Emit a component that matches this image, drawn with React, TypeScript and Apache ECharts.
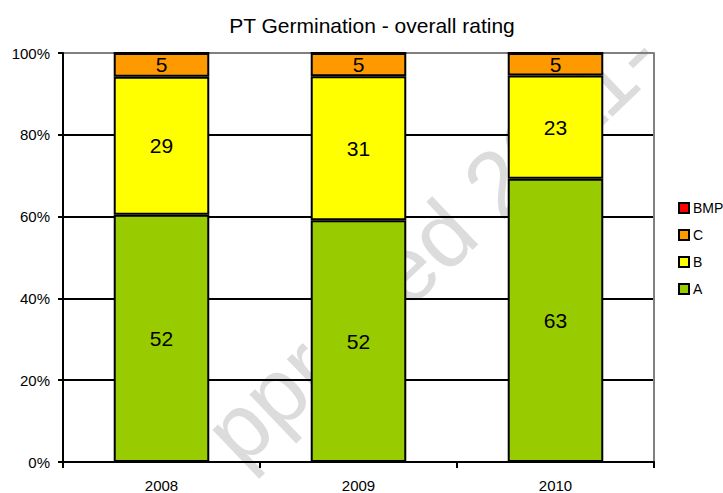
import React, { useEffect, useRef } from 'react';
import * as echarts from 'echarts';

const years = ['2008', '2009', '2010'];
const valuesA = [52, 52, 63];
const valuesB = [29, 31, 23];
const valuesC = [5, 5, 5];
const valuesBMP = [0, 0, 0];
const legendOrder = ['BMP', 'C', 'B', 'A'];
const yTickSuffix = '%';
const watermarkText = 'pproved 2011-';

const FONT = '"Liberation Sans", Arial, sans-serif';

export default function App() {
  const ref = useRef<HTMLDivElement>(null);
  useEffect(() => {
    document.body.style.margin = '0';
    const chart = echarts.init(ref.current!, null, { renderer: 'svg' });
    const totals = years.map((_, i) => valuesA[i] + valuesB[i] + valuesC[i] + valuesBMP[i]);
    const pct = (arr: number[]) => arr.map((v, i) => (v / totals[i]) * 100);
    const mk = (name: string, raw: number[], color: string) => ({
      name,
      type: 'bar',
      stack: 'total',
      barWidth: '48.5%',
      data: pct(raw),
      itemStyle: { color, borderColor: '#000', borderWidth: 2 },
      label: {
        show: true,
        position: 'inside',
        color: '#000',
        fontSize: 21,
        fontFamily: FONT,
        formatter: (p: any) => (raw[p.dataIndex] === 0 ? '' : String(raw[p.dataIndex])),
      },
      emphasis: { disabled: true },
    });
    chart.setOption({
      animation: false,
      backgroundColor: '#fff',
      title: {
        text: 'PT Germination - overall rating',
        left: 367,
        top: 10,
        textAlign: 'center',
        textStyle: { fontSize: 21, fontWeight: 'normal', color: '#000', fontFamily: FONT },
      },
      graphic: [
        {
          type: 'text',
          x: 432,
          y: 244,
          rotation: 0.76,
          z: -10,
          silent: true,
          style: {
            text: watermarkText,
            fontSize: 92,
            fontFamily: FONT,
            fill: '#dcdcdc',
            textAlign: 'center',
            textVerticalAlign: 'middle',
            align: 'center',
            verticalAlign: 'middle',
          },
        },
      ],
      legend: {
        data: legendOrder,
        orient: 'vertical',
        left: 673,
        top: 196,
        itemWidth: 10,
        itemHeight: 10,
        itemGap: 13,
        icon: 'rect',
        textStyle: { fontSize: 14, color: '#000', fontFamily: FONT, padding: [0, 0, 0, -1] },
        itemStyle: { borderColor: '#000', borderWidth: 2 },
        selectedMode: false,
      },
      grid: { left: 63, right: 69, top: 53, bottom: 30, containLabel: false },
      xAxis: {
        type: 'category',
        data: years,
        axisLine: { show: true, lineStyle: { color: '#000', width: 2 } },
        axisTick: { show: true, length: 6, lineStyle: { color: '#000', width: 2 } },
        axisLabel: { fontSize: 15, color: '#000', fontFamily: FONT, margin: 16 },
        splitLine: { show: false },
      },
      yAxis: [
        {
          type: 'value',
          min: 0,
          max: 100,
          interval: 20,
          axisLine: { show: true, lineStyle: { color: '#000', width: 2 } },
          axisTick: { show: true, length: 5, lineStyle: { color: '#000', width: 2 } },
          axisLabel: {
            fontSize: 15,
            color: '#000',
            fontFamily: FONT,
            margin: 13,
            formatter: (v: number) => v + yTickSuffix,
          },
          splitLine: {
            show: true,
            lineStyle: { color: ['#000', '#000', '#000', '#000', '#000', '#808080'], width: 2 },
          },
        },
        {
          type: 'value',
          position: 'right',
          min: 0,
          max: 100,
          interval: 20,
          axisLine: { show: true, lineStyle: { color: '#808080', width: 2 } },
          axisTick: { show: false },
          axisLabel: { show: false },
          splitLine: { show: false },
        },
      ],
      series: [
        mk('A', valuesA, '#99CC00'),
        mk('B', valuesB, '#FFFF00'),
        mk('C', valuesC, '#FF9900'),
        mk('BMP', valuesBMP, '#FF0000'),
      ],
    });
    return () => chart.dispose();
  }, []);
  return <div ref={ref} style={{ width: 723, height: 493 }} />;
}
